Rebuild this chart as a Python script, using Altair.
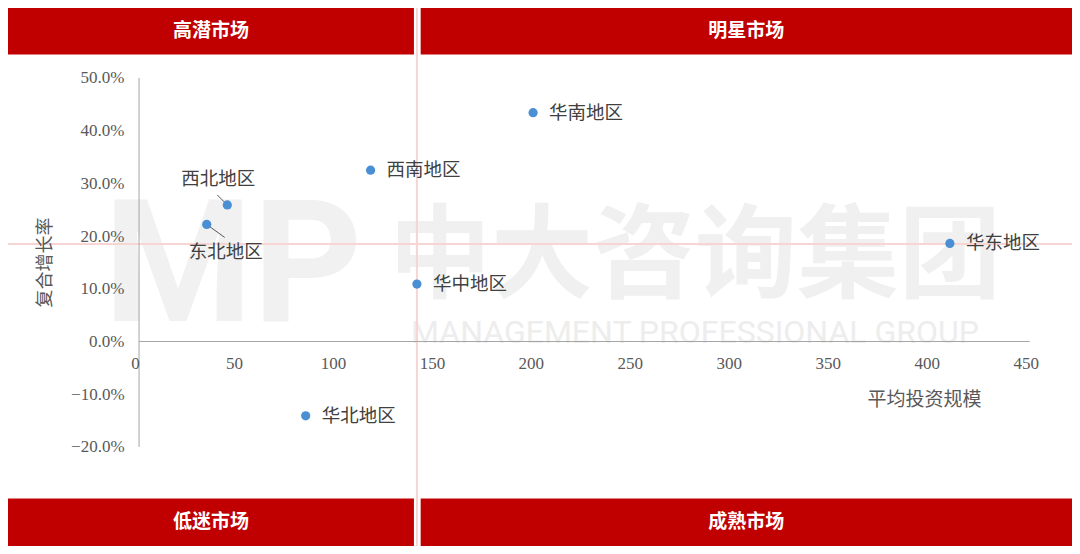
import altair as alt
import pandas as pd

# ---------------- data ----------------
regions = ["华南地区", "西南地区", "西北地区", "东北地区", "华中地区", "华北地区", "华东地区"]
avg_invest = [199.1, 117.0, 44.6, 34.2, 140.4, 84.2, 409.7]          # 平均投资规模
cagr = [0.434, 0.325, 0.259, 0.222, 0.109, -0.141, 0.186]             # 复合增长率
label_pos = ["right", "right", "above", "below", "right", "right", "right"]

quadrant_names = ["高潜市场", "明星市场", "低迷市场", "成熟市场"]
x_ticks = [0, 50, 100, 150, 200, 250, 300, 350, 400, 450]
y_ticks = [-0.2, -0.1, 0.0, 0.1, 0.2, 0.3, 0.4, 0.5]

# quadrant dividers
QUAD_X = 140.4
QUAD_Y = 0.185

# ---------------- layout ----------------
W, H = 1064, 538
X_DOMAIN = [-66.21, 471.40]
Y_DOMAIN = [-0.3879, 0.6326]
HEADER_BOTTOM = 0.5442
FOOTER_TOP = -0.2977
GAP_L, GAP_R = 138.9, 142.3

xs = alt.Scale(domain=X_DOMAIN, nice=False, zero=False)
ys = alt.Scale(domain=Y_DOMAIN, nice=False, zero=False)

x_off = -(0 - X_DOMAIN[0]) / (X_DOMAIN[1] - X_DOMAIN[0]) * W
y_zero_px = (Y_DOMAIN[1] - 0) / (Y_DOMAIN[1] - Y_DOMAIN[0]) * H
y_off = -(H - y_zero_px)

CJK = "Noto Sans CJK SC"
NUMF = "Liberation Serif, Noto Sans CJK SC"
GRAY = "#595959"

pts = pd.DataFrame({"region": regions, "x": avg_invest, "y": cagr, "pos": label_pos})

quad = pd.DataFrame({
    "name": quadrant_names,
    "x1": [X_DOMAIN[0], GAP_R, X_DOMAIN[0], GAP_R],
    "x2": [GAP_L, X_DOMAIN[1], GAP_L, X_DOMAIN[1]],
    "y1": [Y_DOMAIN[1], Y_DOMAIN[1], FOOTER_TOP, FOOTER_TOP],
    "y2": [HEADER_BOTTOM, HEADER_BOTTOM, Y_DOMAIN[0], Y_DOMAIN[0]],
})
quad["cx"] = (quad["x1"] + quad["x2"]) / 2
quad["cy"] = (quad["y1"] + quad["y2"]) / 2

X = lambda f: alt.X(f, scale=xs)
Y = lambda f: alt.Y(f, scale=ys)

# ---------------- watermark ----------------
wm_mp = alt.Chart(pd.DataFrame({"t": ["MP"]})).mark_text(
    font="Roboto", fontWeight="bold", fontSize=170, color="#F1F1F1",
    align="center", baseline="middle"
).encode(x=alt.value(225), y=alt.value(262), text="t:N")
wm_cn = alt.Chart(pd.DataFrame({"t": ["中大咨询集团"]})).mark_text(
    font=CJK, fontWeight="bold", fontSize=102, color="#F0F0F0",
    align="center", baseline="middle"
).encode(x=alt.value(687), y=alt.value(251), text="t:N")
wm_en = alt.Chart(pd.DataFrame({"t": ["MANAGEMENT PROFESSIONAL GROUP"]})).mark_text(
    font="Roboto", fontSize=32, color="#EDEDED",
    align="center", baseline="middle"
).encode(x=alt.value(687), y=alt.value(325), text="t:N")

# ---------------- axes ----------------
axis_x = alt.Axis(
    values=x_ticks, offset=y_off, domain=False, ticks=False, grid=False, zindex=1,
    labelFont=NUMF, labelFontSize=17, labelColor=GRAY, labelPadding=14, labelOffset=-4,
    labelOverlap=False, labelFlush=False,
    title="平均投资规模", titleFont=CJK, titleFontSize=19, titleFontWeight="normal",
    titleColor=GRAY, titleX=916, titleY=58, titleAlign="center", titleBaseline="middle",
)
axis_y = alt.Axis(
    values=y_ticks, offset=x_off, domain=False, ticks=False, grid=False, zindex=1,
    format=".1%", labelFont=NUMF, labelFontSize=17, labelColor=GRAY, labelPadding=15,
    labelOverlap=False, labelFlush=False,
    title="复合增长率", titleFont=CJK, titleFontSize=18, titleFontWeight="normal",
    titleColor=GRAY, titleX=-94, titleY=254, titleAngle=270, titleAlign="center",
    titleBaseline="middle",
)

# ---------------- dividers ----------------
vdiv = alt.Chart(pd.DataFrame({"x": [QUAD_X]})).mark_rule(
    color="#F6D5D2", strokeWidth=2
).encode(x=alt.X("x:Q", scale=xs, axis=axis_x))
hdiv = alt.Chart(pd.DataFrame({"y": [QUAD_Y]})).mark_rule(
    color="#F6D5D2", strokeWidth=2
).encode(y=alt.Y("y:Q", scale=ys, axis=axis_y))

# ---------------- header / footer bars ----------------
bars = alt.Chart(quad).mark_rect(color="#C00000").encode(
    x=X("x1:Q"), x2="x2:Q", y=Y("y1:Q"), y2="y2:Q",
)
bar_text = alt.Chart(quad).mark_text(
    font=CJK, fontWeight="bold", fontSize=19, color="white",
    align="center", baseline="middle"
).encode(x=X("cx:Q"), y=Y("cy:Q"), text="name:N")

# ---------------- axis lines ----------------
xaxis_line = alt.Chart(pd.DataFrame({"a": [0], "b": [450], "y": [0]})).mark_rule(
    color="#A6A6A6", strokeWidth=1
).encode(x=X("a:Q"), x2="b:Q", y=Y("y:Q"))
yaxis_line = alt.Chart(pd.DataFrame({"x": [0], "a": [-0.2], "b": [0.5]})).mark_rule(
    color="#A6A6A6", strokeWidth=1
).encode(x=X("x:Q"), y=Y("a:Q"), y2="b:Q")

# ---------------- leader lines ----------------
nw = pts[pts["pos"] == "above"]
ne = pts[pts["pos"] == "below"]
lead_nw = alt.Chart(nw).mark_rule(
    color=GRAY, strokeWidth=1, xOffset=-10, yOffset=-10, x2Offset=0, y2Offset=0
).encode(x=X("x:Q"), x2="x:Q", y=Y("y:Q"), y2="y:Q")
lead_ne = alt.Chart(ne).mark_rule(
    color=GRAY, strokeWidth=1, xOffset=0, yOffset=0, x2Offset=18, y2Offset=13
).encode(x=X("x:Q"), x2="x:Q", y=Y("y:Q"), y2="y:Q")

points = alt.Chart(pts).mark_circle(size=85, color="#4A8FD3", opacity=1).encode(
    x=X("x:Q"), y=Y("y:Q"),
)

# ---------------- labels ----------------
right = pts[pts["pos"] == "right"]
lab_right = alt.Chart(right).mark_text(
    font=CJK, fontSize=18.5, color="#404040", align="left", baseline="middle", dx=16
).encode(x=X("x:Q"), y=Y("y:Q"), text="region:N")
lab_nw = alt.Chart(nw).mark_text(
    font=CJK, fontSize=18.5, color="#404040", align="center", baseline="middle", dx=-9, dy=-26
).encode(x=X("x:Q"), y=Y("y:Q"), text="region:N")
lab_ne = alt.Chart(ne).mark_text(
    font=CJK, fontSize=18.5, color="#404040", align="center", baseline="middle", dx=19, dy=28
).encode(x=X("x:Q"), y=Y("y:Q"), text="region:N")

chart = alt.layer(
    wm_mp, wm_cn, wm_en, vdiv, hdiv, bars, bar_text, xaxis_line, yaxis_line,
    lead_nw, lead_ne, points, lab_right, lab_nw, lab_ne
).properties(
    width=W, height=H, padding=0,
    autosize=alt.AutoSizeParams(type="none"),
    background="white",
).configure_view(stroke=None)

chart.save("out.html", embed_options={"renderer": "svg", "actions": False})
